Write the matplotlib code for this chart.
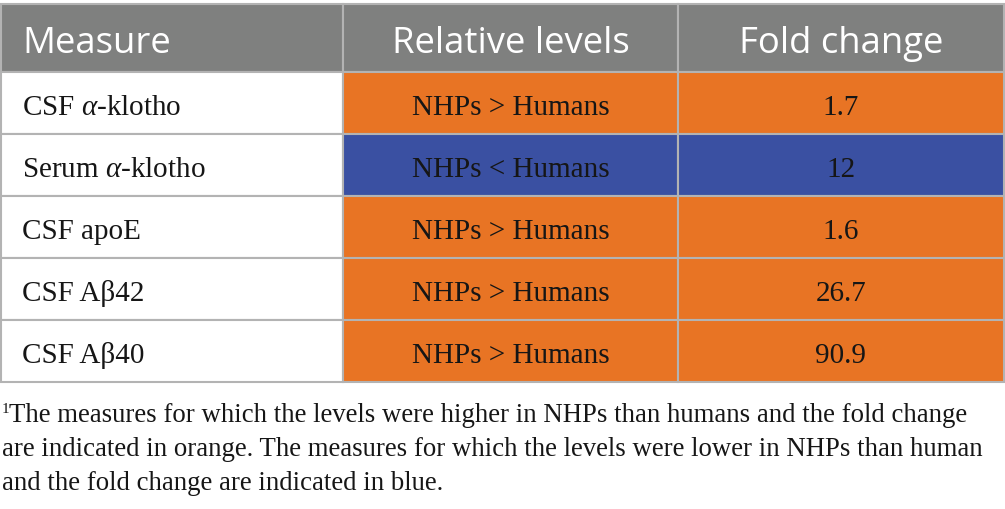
import matplotlib.pyplot as plt
from matplotlib.patches import Rectangle

plt.rcParams['mathtext.fontset'] = 'custom'
plt.rcParams['mathtext.it'] = 'Liberation Serif:italic'
plt.rcParams['mathtext.rm'] = 'Liberation Serif'

headers = ["Measure", "Relative levels", "Fold change"]
measures = [r"CSF $\alpha$-klotho", r"Serum $\alpha$-klotho", "CSF apoE", "CSF Aβ42", "CSF Aβ40"]
relative = ["NHPs > Humans", "NHPs < Humans", "NHPs > Humans", "NHPs > Humans", "NHPs > Humans"]
fold_change = ["1.7", "12", "1.6", "26.7", "90.9"]
footnote = ["The measures for which the levels were higher in NHPs than humans and the fold change",
            "are indicated in orange. The measures for which the levels were lower in NHPs than human",
            "and the fold change are indicated in blue."]

orange = "#E87424"
blue = "#3A50A2"
header_gray = "#7F807F"
line_gray = "#B3B3B3"

fig = plt.figure(figsize=(10.05, 5.10), dpi=100)
ax = fig.add_axes([0, 0, 1, 1])
ax.set_xlim(0, 1005)
ax.set_ylim(510, 0)
ax.axis('off')

col_x = [1, 343, 678, 1004]
top = 5
header_h = 68
row_h = 62

# header
for i, h in enumerate(headers):
    x0, x1 = col_x[i], col_x[i + 1]
    ax.add_patch(Rectangle((x0, top), x1 - x0, header_h, facecolor=header_gray,
                           edgecolor=line_gray, lw=1.5))
    tx = 22 if i == 0 else (x0 + x1) / 2
    ax.text(tx, 53, h, ha='left' if i == 0 else 'center', va='baseline',
            color='white', fontsize=26.3, family='Open Sans')

# rows
for r in range(len(measures)):
    y0 = top + header_h + r * row_h
    fill = orange if ">" in relative[r] else blue
    cells = [measures[r], relative[r], fold_change[r]]
    colors = ["white", fill, fill]
    for i in range(3):
        x0, x1 = col_x[i], col_x[i + 1]
        ax.add_patch(Rectangle((x0, y0), x1 - x0, row_h, facecolor=colors[i],
                               edgecolor=line_gray, lw=1.5))
        tx = 22 if i == 0 else (x0 + x1) / 2
        ax.text(tx, y0 + 42, cells[i], ha='left' if i == 0 else 'center',
                va='baseline', color='#161616', fontsize=21, family='Liberation Serif')

# footnote
ax.text(2, 413, "1", fontsize=11, family='Liberation Serif', color='#161616', va='baseline')
for k, line in enumerate(footnote):
    ax.text(9 if k == 0 else 2, 422 + k * 34, line, fontsize=19.3, family='Liberation Serif',
            color='#161616', va='baseline')

fig.savefig("out.png", dpi=100)
